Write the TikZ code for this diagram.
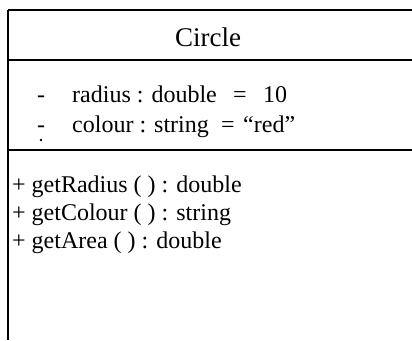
\documentclass[tikz,border=0pt]{standalone}
\usepackage{fontspec}
\setmainfont{Liberation Serif}
\begin{document}
\begin{tikzpicture}[x=1pt,y=1pt,
  txt/.style={inner sep=0pt,anchor=base west,font=\fontsize{24}{27}\selectfont},
  ttl/.style={inner sep=0pt,anchor=base,font=\fontsize{27}{30}\selectfont},
  rule/.style={line width=1.4pt}]
\useasboundingbox (0,0) rectangle (412,340);
% compartments
\coordinate (tl) at (8,330);
\coordinate (tr) at (412,330);
\coordinate (bl) at (8,0);
\coordinate (n1l) at (8,280);
\coordinate (n1r) at (412,280);
\coordinate (n2l) at (8,190);
\coordinate (n2r) at (412,190);
\draw[rule] (tl) -- (tr);
\draw[line width=1.2pt] (tl) -- (bl);
\draw[rule] (n1l) -- (n1r);
\draw[rule] (n2l) -- (n2r);
% title
\node[ttl] (title) at (208,293) {Circle};
% attributes
\node[txt] (d1) at (37,237) {-};
\node[txt] (a1) at (72,237) {radius : double};
\node[txt] (e1) at (233,237) {=};
\node[txt] (v1) at (263,237) {10};
\node[txt] (d2) at (37,207) {-};
\node[txt] (a2) at (72,207) {colour : string};
\node[txt] (e2) at (221,207) {=};
\node[txt] (v2) at (243,207) {“red”};
\fill (41,200) circle (1.3pt);
% methods
\node[txt] (m1) at (12,147) {+ getRadius ( ) : double};
\node[txt] (m2) at (12,119) {+ getColour ( ) : string};
\node[txt] (m3) at (12,91) {+ getArea ( ) : double};
\end{tikzpicture}
\end{document}
